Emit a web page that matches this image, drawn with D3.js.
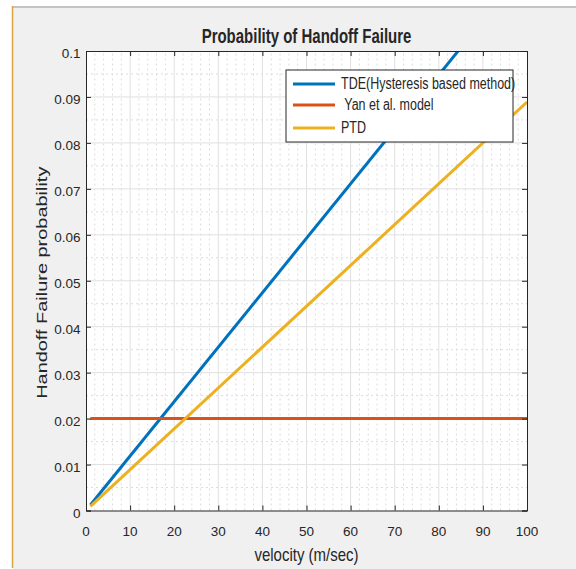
<!DOCTYPE html>
<html>
<head>
<meta charset="utf-8">
<script src="https://cdn.jsdelivr.net/npm/d3@7"></script>
<style>
  html, body { margin: 0; padding: 0; background: #fff; }
  text { font-family: "Liberation Sans", Arial, sans-serif; fill: #262626; }
</style>
</head>
<body>
<svg class="chart"></svg>
<script>
// data
const velocity = [1, 100];
const tde = [0.0012, 0.1185];
const yan = [0.02, 0.02];
const ptd = [0.0009, 0.0889];

const xTicks = [0, 10, 20, 30, 40, 50, 60, 70, 80, 90, 100];
const yTicks = [0, 0.01, 0.02, 0.03, 0.04, 0.05, 0.06, 0.07, 0.08, 0.09, 0.1];
const yTickLabels = ["0", "0.01", "0.02", "0.03", "0.04", "0.05", "0.06", "0.07", "0.08", "0.09", "0.1"];

const seriesNames = ["TDE(Hysteresis based method)", " Yan et al. model", "PTD"];
const seriesColors = ["#0072bd", "#d95319", "#edb120"];

const width = 576;
const height = 569;

const svg = d3.select('.chart')
    .attr('width', width)
    .attr('height', height);

// figure background
svg.append('rect').attr('width', width).attr('height', height).attr('fill', '#fff');
svg.append('rect')
    .attr('x', 13).attr('y', 8)
    .attr('width', width - 13).attr('height', height - 8)
    .attr('fill', '#f0f0f0');
svg.append('line')
    .attr('x1', 13).attr('x2', width).attr('y1', 7).attr('y2', 7)
    .attr('stroke', '#c4c4c4').attr('stroke-width', 2);
svg.append('line')
    .attr('x1', 12.5).attr('x2', 12.5).attr('y1', 6).attr('y2', 568)
    .attr('stroke', '#d9a441').attr('stroke-width', 1.5);

const x = d3.scaleLinear().domain([0, 100]).range([86, 527]);
const y = d3.scaleLinear().domain([0, 0.1]).range([510.5, 51]);

// plot area
svg.append('rect')
    .attr('x', x(0)).attr('y', y(0.1))
    .attr('width', x(100) - x(0)).attr('height', y(0) - y(0.1))
    .attr('fill', '#fff');

// minor grid
const grid = svg.append('g');
grid.selectAll('.xminor')
    .data(d3.range(0, 100, 2).filter(v => v % 10 !== 0))
    .enter().append('line')
    .attr('x1', d => x(d)).attr('x2', d => x(d))
    .attr('y1', y(0)).attr('y2', y(0.1))
    .attr('stroke', '#dcdcdc').attr('stroke-dasharray', '2,3');
grid.selectAll('.yminor')
    .data(d3.range(0.005, 0.1, 0.01))
    .enter().append('line')
    .attr('x1', x(0)).attr('x2', x(100))
    .attr('y1', d => y(d)).attr('y2', d => y(d))
    .attr('stroke', '#dcdcdc').attr('stroke-dasharray', '2,3');

// major grid
grid.selectAll('.xmajor')
    .data(xTicks.slice(1, -1))
    .enter().append('line')
    .attr('x1', d => x(d)).attr('x2', d => x(d))
    .attr('y1', y(0)).attr('y2', y(0.1))
    .attr('stroke', '#e0e0e0');
grid.selectAll('.ymajor')
    .data(yTicks.slice(1, -1))
    .enter().append('line')
    .attr('x1', x(0)).attr('x2', x(100))
    .attr('y1', d => y(d)).attr('y2', d => y(d))
    .attr('stroke', '#e0e0e0');

// series
svg.append('clipPath').attr('id', 'clip')
    .append('rect')
    .attr('x', x(0)).attr('y', y(0.1))
    .attr('width', x(100) - x(0)).attr('height', y(0) - y(0.1));

const line = d3.line().x(d => x(d[0])).y(d => y(d[1]));
const series = [tde, yan, ptd];

svg.append('g').attr('clip-path', 'url(#clip)')
    .selectAll('path')
    .data(series)
    .enter().append('path')
    .attr('d', d => line(velocity.map((v, i) => [v, d[i]])))
    .attr('fill', 'none')
    .attr('stroke', (d, i) => seriesColors[i])
    .attr('stroke-width', 3);

// axes, ticks pointing inward
const axisColor = '#262626';
svg.append('g')
    .attr('transform', `translate(0,${y(0)})`)
    .call(d3.axisBottom(x).tickValues(xTicks).tickSize(-5).tickFormat(''));
svg.append('g')
    .attr('transform', `translate(0,${y(0.1)})`)
    .call(d3.axisTop(x).tickValues(xTicks).tickSize(-5).tickFormat(''));
svg.append('g')
    .attr('transform', `translate(${x(0)},0)`)
    .call(d3.axisLeft(y).tickValues(yTicks).tickSize(-5).tickFormat(''));
svg.append('g')
    .attr('transform', `translate(${x(100)},0)`)
    .call(d3.axisRight(y).tickValues(yTicks).tickSize(-5).tickFormat(''));

svg.selectAll('.domain').attr('stroke', axisColor);
svg.selectAll('.tick line').attr('stroke', axisColor);

// tick labels
svg.append('g').selectAll('text')
    .data(xTicks)
    .enter().append('text')
    .attr('x', d => x(d))
    .attr('y', 536)
    .attr('text-anchor', 'middle')
    .attr('font-size', 13.5)
    .attr('fill', '#404040')
    .text(d => d);

svg.append('g').selectAll('text')
    .data(yTicks)
    .enter().append('text')
    .attr('x', 80.5)
    .attr('y', d => y(d) + 7)
    .attr('text-anchor', 'end')
    .attr('font-size', 13.5)
    .attr('fill', '#404040')
    .text((d, i) => yTickLabels[i]);

// title and labels (the reference is stretched vertically)
svg.append('text')
    .attr('transform', `translate(${(x(0) + x(100)) / 2},43) scale(1,1.33)`)
    .attr('text-anchor', 'middle')
    .attr('font-size', 15)
    .attr('font-weight', 'bold')
    .attr('fill', '#111')
    .text('Probability of Handoff Failure');

svg.append('text')
    .attr('transform', `translate(${(x(0) + x(100)) / 2},561) scale(1,1.2)`)
    .attr('text-anchor', 'middle')
    .attr('font-size', 15)
    .attr('fill', '#404040')
    .text('velocity (m/sec)');

svg.append('text')
    .attr('transform', `translate(47,${(y(0) + y(0.1)) / 2 + 2}) rotate(-90) scale(1.33,1)`)
    .attr('text-anchor', 'middle')
    .attr('font-size', 15)
    .attr('fill', '#404040')
    .text('Handoff Failure probability');

// legend
const legend = svg.append('g').attr('transform', 'translate(286,70)');
legend.append('rect')
    .attr('width', 227).attr('height', 72)
    .attr('fill', '#fff')
    .attr('stroke', axisColor);

const rows = legend.selectAll('.legend')
    .data(seriesNames)
    .enter().append('g')
    .attr('class', 'legend')
    .attr('transform', (d, i) => `translate(0,${[14, 35, 58][i]})`);

rows.append('line')
    .attr('x1', 7).attr('x2', 49)
    .attr('stroke', (d, i) => seriesColors[i])
    .attr('stroke-width', 3);

rows.append('text')
    .attr('transform', 'translate(55,5) scale(1,1.3)')
    .attr('font-size', 12.5)
    .attr('fill', '#111')
    .style('white-space', 'pre')
    .text(d => d);
</script>
</body>
</html>
